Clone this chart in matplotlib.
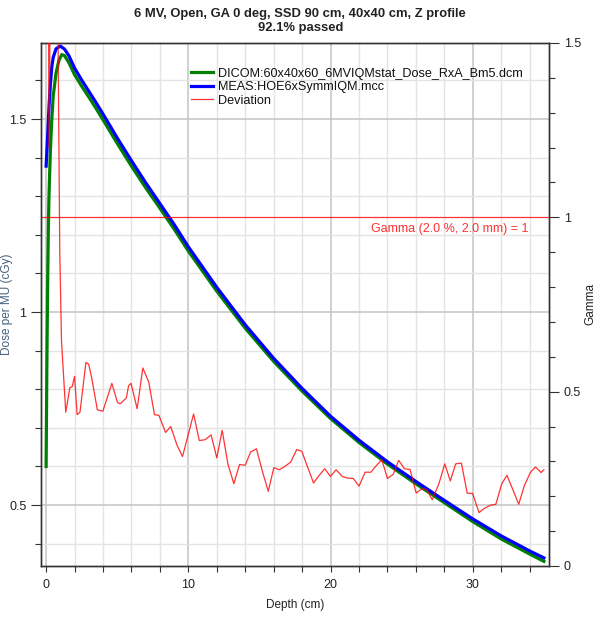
import matplotlib
matplotlib.use("Agg")
import matplotlib.pyplot as plt
from matplotlib.ticker import MultipleLocator
from matplotlib.lines import Line2D

plt.rcParams['font.family'] = ['Liberation Sans', 'DejaVu Sans']

# Calculated depth dose (DICOM)
dicom_depth = [0, 0.05, 0.1, 0.15, 0.2, 0.3, 0.4, 0.5, 0.7, 0.9, 1.1, 1.3, 1.6, 2.0, 2.5,
               3.0, 3.5, 4, 5, 6, 7, 8, 9, 10, 12, 14, 16, 18, 20, 22, 24, 26, 28, 30,
               32, 34, 35]
dicom_dose = [0.60, 0.85, 1.05, 1.20, 1.30, 1.42, 1.50, 1.56, 1.62, 1.652, 1.667, 1.664,
              1.646, 1.615, 1.585, 1.557, 1.528, 1.498, 1.437, 1.378, 1.322, 1.269, 1.215,
              1.158, 1.054, 0.958, 0.872, 0.795, 0.724, 0.662, 0.606, 0.555, 0.506, 0.457,
              0.412, 0.373, 0.354]

# Measured depth dose
meas_depth = [0, 0.1, 0.2, 0.3, 0.4, 0.5, 0.7, 1.0, 1.3, 1.6, 2.0, 2.5, 3.0, 3.5, 4, 5, 6,
              7, 8, 9, 10, 12, 14, 16, 18, 20, 22, 24, 26, 28, 30, 32, 34, 35]
meas_dose = [1.378, 1.45, 1.53, 1.59, 1.635, 1.66, 1.682, 1.689, 1.681, 1.664, 1.632, 1.601,
             1.572, 1.543, 1.513, 1.451, 1.392, 1.335, 1.281, 1.227, 1.169, 1.064, 0.967,
             0.880, 0.802, 0.730, 0.668, 0.612, 0.561, 0.512, 0.464, 0.420, 0.381, 0.363]

# Gamma index along depth
gamma_depth = [0.0, 0.2, 0.55, 0.8, 0.96, 1.08, 1.38, 1.67, 1.83, 2.0, 2.18, 2.38, 2.8, 2.99,
               3.2, 3.6, 3.99, 4.38, 4.62, 5.02, 5.21, 5.64, 5.8, 5.97, 6.4, 6.8, 7.22, 7.62,
               7.93, 8.4, 8.76, 9.2, 9.59, 10.37, 10.77, 11.17, 11.6, 12.0, 12.38, 12.78,
               13.2, 13.6, 14.0, 14.38, 14.79, 15.19, 15.62, 16.01, 16.4, 16.8, 17.2, 17.62,
               17.98, 18.4, 18.69, 18.8, 19.2, 19.59, 19.99, 20.39, 20.82, 21.22, 21.6, 22.0,
               22.43, 22.83, 23.2, 23.6, 24.0, 24.41, 24.79, 25.19, 25.59, 26.02, 26.42,
               26.77, 27.15, 27.62, 28.03, 28.42, 28.8, 29.2, 29.61, 29.99, 30.44, 30.8,
               31.22, 31.62, 32.04, 32.4, 32.82, 33.23, 33.63, 34.06, 34.41, 34.81, 35.0]
gamma_value = [4.0, 1.2, 2.8, 1.7, 0.9, 0.646, 0.441, 0.512, 0.514, 0.544, 0.434, 0.441,
               0.584, 0.579, 0.541, 0.448, 0.444, 0.493, 0.524, 0.469, 0.465, 0.482, 0.517,
               0.524, 0.451, 0.568, 0.527, 0.434, 0.432, 0.383, 0.40, 0.347, 0.314, 0.436,
               0.36, 0.362, 0.376, 0.31, 0.389, 0.293, 0.236, 0.291, 0.289, 0.327, 0.336,
               0.274, 0.214, 0.282, 0.276, 0.286, 0.298, 0.334, 0.329, 0.282, 0.251, 0.238,
               0.26, 0.279, 0.257, 0.276, 0.257, 0.252, 0.251, 0.229, 0.269, 0.269, 0.287,
               0.305, 0.251, 0.263, 0.303, 0.279, 0.277, 0.209, 0.222, 0.219, 0.19, 0.236,
               0.293, 0.244, 0.293, 0.295, 0.209, 0.208, 0.153, 0.165, 0.174, 0.177, 0.236,
               0.26, 0.219, 0.177, 0.231, 0.269, 0.284, 0.268, 0.276]

gamma_threshold = 1.0
title_lines = ["6 MV, Open, GA 0 deg, SSD 90 cm, 40x40 cm, Z profile", "92.1% passed"]
legend_labels = ["DICOM:60x40x60_6MVIQMstat_Dose_RxA_Bm5.dcm", "MEAS:HOE6xSymmIQM.mcc",
                 "Deviation"]

GREEN = "#008000"
BLUE = "#0000ff"
RED = "#ff0000"
TXT = "#222222"

fig = plt.figure(figsize=(6.08, 6.17), dpi=100)
ax = fig.add_axes([41 / 608, 1 - 566 / 617, 508 / 608, 523 / 617])
ax2 = ax.twinx()

ax.set_xlim(-0.36, 35.36)
ax.set_ylim(0.342, 1.697)
ax2.set_ylim(0, 1.494)

# grid
ax.xaxis.set_major_locator(MultipleLocator(10))
ax.xaxis.set_minor_locator(MultipleLocator(2))
ax.yaxis.set_major_locator(MultipleLocator(0.5))
ax.yaxis.set_minor_locator(MultipleLocator(0.1))
ax2.yaxis.set_major_locator(MultipleLocator(0.5))
ax2.yaxis.set_minor_locator(MultipleLocator(0.1))
ax.grid(which='major', color='#c4c4c4', linewidth=1.1)
ax.grid(which='minor', color='#e4e4e4', linewidth=1.0)
ax.set_axisbelow(True)

ax.plot(dicom_depth, dicom_dose, color=GREEN, linewidth=2.3, solid_joinstyle='round', zorder=3)
ax.plot(meas_depth, meas_dose, color=BLUE, linewidth=2.3, solid_joinstyle='round', zorder=4)

ax2.plot(gamma_depth, gamma_value, color=RED, linewidth=0.9, alpha=0.8, zorder=5)
ax2.axhline(gamma_threshold, color=RED, linewidth=0.9, alpha=0.8)
ax2.text(33.9, gamma_threshold - 0.015, "Gamma (2.0 %, 2.0 mm) = 1", color="#ff3030",
         fontsize=9, ha='right', va='top')

# ticks and labels
for a in (ax, ax2):
    for s in a.spines.values():
        s.set_color('#333333')
        s.set_linewidth(1.0)
ax.tick_params(axis='x', which='both', direction='out', length=4, width=0.8,
               colors='#333333', labelcolor=TXT, labelsize=9, pad=5)
ax.tick_params(axis='y', which='major', direction='out', length=7, width=0.8,
               colors='#333333', labelcolor=TXT, labelsize=9)
ax.tick_params(axis='y', which='minor', direction='out', length=4, width=0.8, colors='#333333')
ax2.tick_params(axis='y', which='major', direction='out', length=7, width=0.8,
                colors='#333333', labelcolor=TXT, labelsize=9)
ax2.tick_params(axis='y', which='minor', direction='out', length=4, width=0.8, colors='#333333')
ax.set_xticks([0, 10, 20, 30])
ax.set_xticklabels(["0", "10", "20", "30"])
ax.set_yticks([0.5, 1.0, 1.5])
ax.set_yticklabels(["0.5", "1", "1.5"])
ax2.set_yticks([0, 0.5, 1.0, 1.5])
ax2.set_yticklabels(["0", "0.5", "1", "1.5"])

ax.set_xlabel("Depth (cm)", fontsize=8.5, color=TXT, labelpad=6)
ax.set_ylabel("Dose per MU (cGy)", fontsize=8.5, color="#45607e")
ax.yaxis.set_label_coords(-0.055, 0.5)
ax2.set_ylabel("Gamma", fontsize=8.5, color=TXT, rotation=90)
ax2.yaxis.set_label_coords(1.07, 0.5)

fig.text(0.494, 1 - 14 / 617, title_lines[0], ha='center', va='center', fontsize=9.4,
         fontweight='bold', color=TXT)
fig.text(0.494, 1 - 28 / 617, title_lines[1], ha='center', va='center', fontsize=9.4,
         fontweight='bold', color=TXT)

handles = [Line2D([], [], color=GREEN, linewidth=2.3),
           Line2D([], [], color=BLUE, linewidth=2.3),
           Line2D([], [], color=RED, linewidth=0.9, alpha=0.8)]
leg = ax2.legend(handles, legend_labels, loc='upper left',
                 bbox_to_anchor=(188 / 608, 1 - 65 / 617), bbox_transform=fig.transFigure,
                 frameon=False, fontsize=9.1, handlelength=1.8, handletextpad=0.4,
                 labelspacing=0.12, borderpad=0.2, borderaxespad=0)
for t in leg.get_texts():
    t.set_color("#111111")

fig.savefig("out.png", dpi=100)
